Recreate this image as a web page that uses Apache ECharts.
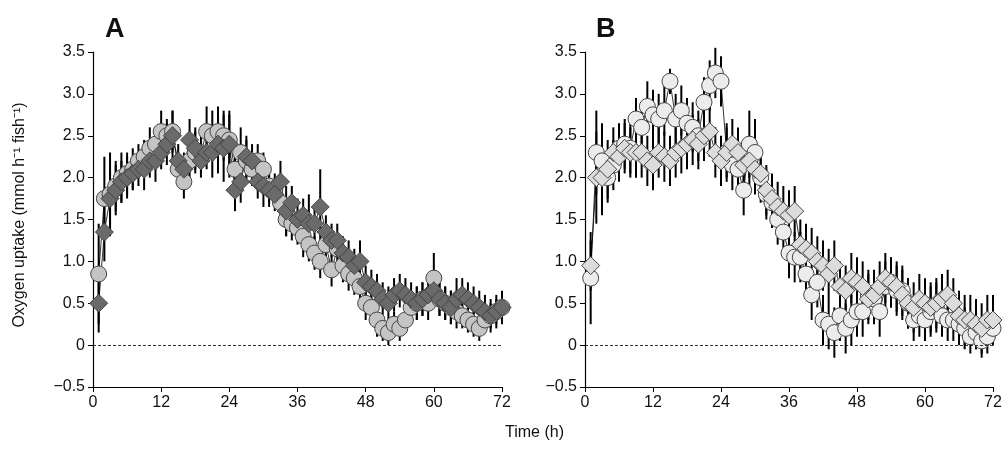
<!DOCTYPE html>
<html lang="en">
<head>
<meta charset="utf-8">
<title>Oxygen uptake</title>
<script src="https://cdn.jsdelivr.net/npm/echarts@6/dist/echarts.min.js"></script>
</head>
<body style="margin:0">
<div id="main" style="width:1008px;height:453px;"></div>
<script type="text/javascript">
// hours 1..72
var hours = [];
for (var h = 1; h <= 72; h++) hours.push(h);

var aCircle = [0.85,1.75,1.8,1.9,2.0,2.05,2.1,2.2,2.25,2.35,2.4,2.55,2.5,2.55,2.1,1.95,2.2,2.3,2.3,2.55,2.5,2.55,2.5,2.45,2.1,2.3,2.2,2.1,2.2,2.1,1.9,1.85,1.7,1.5,1.45,1.4,1.3,1.2,1.1,1.0,1.2,0.9,1.15,0.95,0.85,0.8,0.7,0.5,0.45,0.3,0.2,0.15,0.25,0.2,0.3,0.45,0.5,0.55,0.5,0.8,0.55,0.5,0.45,0.4,0.35,0.3,0.25,0.2,0.3,0.35,0.4,0.45];
var aDiamond = [0.5,1.35,1.75,1.85,1.95,2.0,2.05,2.1,2.1,2.2,2.2,2.3,2.4,2.5,2.2,2.1,2.45,2.35,2.2,2.3,2.3,2.4,2.35,2.4,1.85,1.95,2.25,2.2,1.95,1.9,1.85,1.8,1.95,1.6,1.7,1.5,1.55,1.45,1.45,1.65,1.35,1.25,1.25,1.1,1.05,0.95,1.0,0.75,0.7,0.65,0.55,0.5,0.6,0.65,0.6,0.55,0.5,0.55,0.6,0.65,0.55,0.5,0.45,0.55,0.6,0.55,0.5,0.45,0.4,0.35,0.4,0.45];
var bCircle = [0.8,2.3,2.2,2.0,2.15,2.35,2.4,2.35,2.7,2.6,2.85,2.75,2.7,2.8,3.15,2.7,2.8,2.65,2.6,2.5,2.9,3.1,3.25,3.15,2.3,2.15,2.1,1.85,2.4,2.3,2.0,1.8,1.7,1.5,1.35,1.1,1.05,1.05,0.85,0.6,0.75,0.3,0.25,0.15,0.35,0.2,0.3,0.4,0.4,0.6,0.55,0.4,0.7,0.75,0.65,0.65,0.5,0.3,0.35,0.3,0.4,0.45,0.35,0.3,0.3,0.25,0.2,0.1,0.15,0.05,0.1,0.2];
var bDiamond = [0.95,2.0,2.0,2.1,2.3,2.25,2.35,2.3,2.3,2.3,2.2,2.15,2.3,2.25,2.2,2.3,2.35,2.4,2.45,2.4,2.5,2.55,2.3,2.2,2.3,2.4,2.3,2.15,2.2,2.1,2.05,1.85,1.75,1.65,1.6,1.55,1.6,1.2,1.15,1.1,1.0,0.95,0.85,0.95,0.7,0.65,0.8,0.75,0.7,0.55,0.6,0.7,0.8,0.75,0.7,0.6,0.5,0.45,0.55,0.5,0.45,0.5,0.55,0.6,0.5,0.35,0.3,0.3,0.25,0.2,0.3,0.3];
// standard deviations
var aCircleErr = [0.6,0.5,0.5,0.3,0.3,0.25,0.25,0.2,0.2,0.25,0.2,0.25,0.2,0.25,0.2,0.2,0.2,0.25,0.25,0.3,0.3,0.3,0.3,0.3,0.2,0.3,0.25,0.2,0.2,0.2,0.2,0.2,0.25,0.2,0.2,0.2,0.25,0.2,0.2,0.2,0.25,0.2,0.2,0.2,0.2,0.2,0.2,0.2,0.2,0.2,0.15,0.15,0.15,0.15,0.15,0.2,0.2,0.2,0.2,0.3,0.2,0.2,0.2,0.2,0.15,0.15,0.15,0.15,0.15,0.15,0.15,0.15];
var aDiamondErr = [0.35,0.35,0.35,0.3,0.25,0.25,0.2,0.2,0.25,0.2,0.25,0.2,0.25,0.3,0.2,0.2,0.25,0.25,0.2,0.2,0.3,0.35,0.4,0.4,0.25,0.25,0.25,0.2,0.2,0.25,0.2,0.2,0.25,0.3,0.2,0.25,0.2,0.35,0.2,0.45,0.2,0.2,0.2,0.2,0.2,0.2,0.25,0.2,0.2,0.2,0.2,0.2,0.2,0.2,0.2,0.2,0.2,0.2,0.2,0.2,0.2,0.2,0.2,0.25,0.2,0.2,0.2,0.2,0.2,0.2,0.2,0.2];
var bCircleErr = [0.55,0.5,0.45,0.3,0.3,0.3,0.3,0.3,0.25,0.25,0.3,0.3,0.3,0.3,0.15,0.3,0.3,0.3,0.3,0.3,0.3,0.3,0.3,0.3,0.35,0.3,0.3,0.3,0.4,0.4,0.3,0.3,0.3,0.3,0.3,0.3,0.3,0.3,0.3,0.3,0.3,0.3,0.3,0.3,0.3,0.3,0.3,0.3,0.3,0.3,0.3,0.3,0.3,0.3,0.3,0.3,0.3,0.25,0.25,0.25,0.3,0.3,0.25,0.25,0.25,0.25,0.25,0.2,0.2,0.2,0.2,0.2];
var bDiamondErr = [0.3,0.55,0.45,0.35,0.3,0.3,0.3,0.3,0.3,0.3,0.3,0.3,0.3,0.3,0.3,0.3,0.3,0.3,0.3,0.3,0.3,0.3,0.3,0.3,0.3,0.3,0.3,0.3,0.3,0.3,0.3,0.3,0.3,0.3,0.3,0.3,0.3,0.3,0.3,0.3,0.3,0.3,0.3,0.3,0.3,0.3,0.3,0.3,0.3,0.3,0.3,0.3,0.3,0.3,0.3,0.3,0.3,0.3,0.3,0.3,0.3,0.3,0.3,0.3,0.3,0.3,0.3,0.3,0.3,0.3,0.3,0.3];

var myChart = echarts.init(document.getElementById('main'));
var font = 'Liberation Sans, Arial, sans-serif';

function pairs(vals) {
    return vals.map(function (v, i) { return [hours[i], v]; });
}
function errSeries(vals, err, idx) {
    return {
        type: 'custom', xAxisIndex: idx, yAxisIndex: idx, z: 1, silent: true,
        data: vals.map(function (v, i) { return [hours[i], v - err[i], v + err[i]]; }),
        renderItem: function (params, api) {
            var lo = api.coord([api.value(0), api.value(1)]);
            var hi = api.coord([api.value(0), api.value(2)]);
            return { type: 'line', shape: { x1: lo[0], y1: lo[1], x2: hi[0], y2: hi[1] },
                     style: { stroke: '#000', lineWidth: 2 } };
        }
    };
}
function markSeries(vals, idx, symbol, fill, size) {
    return {
        type: 'line', xAxisIndex: idx, yAxisIndex: idx, z: 3,
        data: pairs(vals), symbol: symbol, symbolSize: size, showSymbol: true,
        lineStyle: { color: '#000', width: 0.8 },
        itemStyle: { color: fill, borderColor: '#444', borderWidth: 1, opacity: 1 }
    };
}
var zeroLine = {
    silent: true, symbol: 'none', label: { show: false },
    lineStyle: { color: '#000', type: [3, 2], width: 0.8 },
    data: [{ yAxis: 0 }]
};

function yAxis(idx) {
    return {
        type: 'value', gridIndex: idx, min: -0.5, max: 3.5, interval: 0.5,
        axisLine: { show: true, lineStyle: { color: '#000', width: 1.2 } },
        axisTick: { show: true, length: 5, lineStyle: { color: '#000' } },
        splitLine: { show: false },
        axisLabel: { color: '#111', fontSize: 16, fontFamily: font,
            formatter: function (v) { return v === 0 ? '0' : v.toFixed(1).replace('-', '\u2212'); } }
    };
}
function xAxis(idx) {
    return {
        type: 'value', gridIndex: idx, min: 0, max: 72, interval: 12,
        axisLine: { show: true, onZero: false, lineStyle: { color: '#000', width: 1.2 } },
        axisTick: { show: true, length: 5, lineStyle: { color: '#000' } },
        splitLine: { show: false },
        axisLabel: { color: '#111', fontSize: 16, fontFamily: font, margin: 8 }
    };
}

var sA1 = markSeries(aCircle, 0, 'circle', '#c4c4c4', 16);
var sA2 = markSeries(aDiamond, 0, 'diamond', '#6a6a6a', 18);
sA2.markLine = zeroLine;
var sB1 = markSeries(bCircle, 1, 'circle', '#ececec', 16);
var sB2 = markSeries(bDiamond, 1, 'diamond', '#dcdcdc', 18);
sB2.markLine = zeroLine;

var option = {
    animation: false,
    grid: [
        { left: 93, top: 52, width: 409, height: 335 },
        { left: 585, top: 52, width: 408, height: 335 }
    ],
    xAxis: [xAxis(0), xAxis(1)],
    yAxis: [yAxis(0), yAxis(1)],
    graphic: [
        { type: 'text', left: 105, top: 16, style: { text: 'A', font: 'bold 27px ' + font, fill: '#111' } },
        { type: 'text', left: 596, top: 16, style: { text: 'B', font: 'bold 27px ' + font, fill: '#111' } },
        { type: 'text', left: 505, top: 425, style: { text: 'Time (h)', font: '16px ' + font, fill: '#111' } },
        { type: 'text', x: 20, y: 215, rotation: Math.PI / 2,
          style: { text: 'Oxygen uptake (mmol h\u207B\u00B9 fish\u207B\u00B9)', font: '16px ' + font, fill: '#111',
                   align: 'center', verticalAlign: 'middle' } }
    ],
    series: [
        errSeries(aCircle, aCircleErr, 0), errSeries(aDiamond, aDiamondErr, 0), sA1, sA2,
        errSeries(bCircle, bCircleErr, 1), errSeries(bDiamond, bDiamondErr, 1), sB1, sB2
    ]
};
myChart.setOption(option);
</script>
</body>
</html>
